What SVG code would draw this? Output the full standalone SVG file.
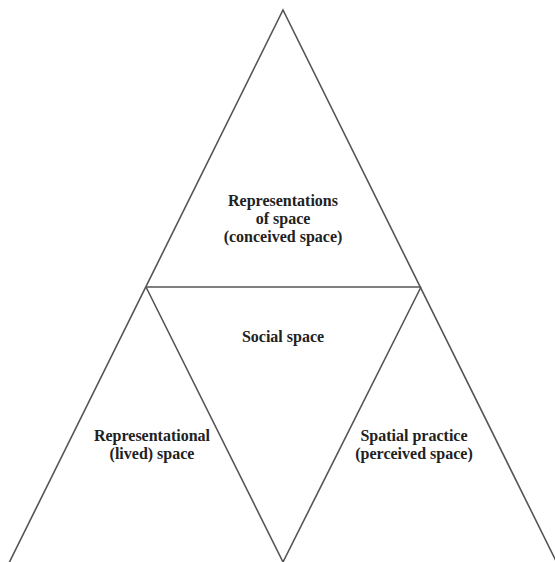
<svg xmlns="http://www.w3.org/2000/svg" width="555" height="562" viewBox="0 0 555 562">
<style>
.edge{stroke:#555;stroke-width:1.6;fill:none;stroke-linejoin:miter}
.lbl{font-family:"Liberation Serif","Times New Roman",serif;font-weight:bold;font-size:16px;fill:#222;text-anchor:middle}
</style>
<rect width="555" height="562" fill="#fff"/>
<g id="connectors">
<path class="edge" d="M8,565 L283,10 L558,565"/>
<path class="edge" d="M146,287 L421,287"/>
<path class="edge" d="M146,287 L283,562 L421,287"/>
</g>
<g id="conceived">
<text class="lbl" x="283" y="206">Representations</text>
<text class="lbl" x="283" y="224">of space</text>
<text class="lbl" x="283" y="242">(conceived space)</text>
</g>
<g id="social">
<text class="lbl" x="283" y="342">Social space</text>
</g>
<g id="lived">
<text class="lbl" x="152" y="441">Representational</text>
<text class="lbl" x="152" y="459">(lived) space</text>
</g>
<g id="perceived">
<text class="lbl" x="414" y="441">Spatial practice</text>
<text class="lbl" x="414" y="459">(perceived space)</text>
</g>
</svg>
